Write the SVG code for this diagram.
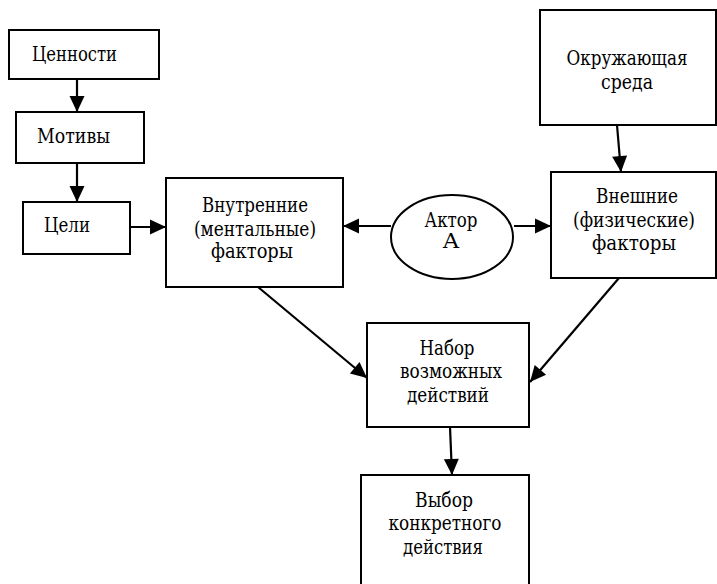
<svg xmlns="http://www.w3.org/2000/svg" width="717" height="584" viewBox="0 0 717 584" style="background:#fff">
<defs>
<marker id="ah" markerUnits="userSpaceOnUse" markerWidth="18" markerHeight="18" viewBox="0 0 18 18" refX="17" refY="9" orient="auto">
<path d="M1,1.5 L17,9 L1,16.5 Z" fill="#000"/>
</marker>
</defs>
<style>
.n { fill: #fff; stroke: #000; stroke-width: 2; }
text { font-family: 'DejaVu Serif', 'Liberation Serif', serif; font-size: 19.5px; fill: #000; }
.c { text-anchor: middle; }
#connectors line { stroke: #000; stroke-width: 2.2; marker-end: url(#ah); }
</style>
<g id="connectors">
<line x1="77" y1="79" x2="77" y2="112"/>
<line x1="77" y1="163" x2="77" y2="202"/>
<line x1="130" y1="227" x2="166" y2="227"/>
<line x1="391" y1="226" x2="343" y2="226"/>
<line x1="514" y1="226" x2="551" y2="226"/>
<line x1="617" y1="125" x2="621" y2="172"/>
<line x1="258" y1="287" x2="367" y2="378"/>
<line x1="619" y1="278" x2="530" y2="382"/>
<line x1="450" y1="427" x2="452" y2="475"/>
</g>
<g id="values">
<rect class="n" x="9" y="30" width="150" height="49"/>
<text x="32" y="61" textLength="85" lengthAdjust="spacingAndGlyphs">Ценности</text>
</g>
<g id="motives">
<rect class="n" x="16" y="112" width="128" height="51"/>
<text x="37" y="143" textLength="73" lengthAdjust="spacingAndGlyphs">Мотивы</text>
</g>
<g id="goals">
<rect class="n" x="23" y="202" width="107" height="52"/>
<text x="44" y="232" textLength="46" lengthAdjust="spacingAndGlyphs">Цели</text>
</g>
<g id="internal">
<rect class="n" x="166" y="178" width="177" height="109"/>
<text class="c" x="255" y="212" textLength="106" lengthAdjust="spacingAndGlyphs">Внутренние</text>
<text class="c" x="255" y="236" textLength="122" lengthAdjust="spacingAndGlyphs">(ментальные)</text>
<text class="c" x="252" y="258" textLength="82" lengthAdjust="spacingAndGlyphs">факторы</text>
</g>
<g id="actor">
<ellipse class="n" cx="452" cy="237" rx="61" ry="42"/>
<text class="c" x="451" y="227" textLength="53" lengthAdjust="spacingAndGlyphs">Актор</text>
<text class="c" x="451" y="248" textLength="17" lengthAdjust="spacingAndGlyphs">А</text>
</g>
<g id="environment">
<rect class="n" x="540" y="10" width="176" height="115"/>
<text class="c" x="627" y="65" textLength="121" lengthAdjust="spacingAndGlyphs">Окружающая</text>
<text class="c" x="627" y="89" textLength="52" lengthAdjust="spacingAndGlyphs">среда</text>
</g>
<g id="external">
<rect class="n" x="551" y="172" width="165" height="106"/>
<text class="c" x="637" y="203" textLength="82" lengthAdjust="spacingAndGlyphs">Внешние</text>
<text class="c" x="634" y="227" textLength="122" lengthAdjust="spacingAndGlyphs">(физические)</text>
<text class="c" x="634" y="250" textLength="84" lengthAdjust="spacingAndGlyphs">факторы</text>
</g>
<g id="actions">
<rect class="n" x="367" y="323" width="162" height="104"/>
<text class="c" x="447" y="355" textLength="55" lengthAdjust="spacingAndGlyphs">Набор</text>
<text class="c" x="451" y="378" textLength="102" lengthAdjust="spacingAndGlyphs">возможных</text>
<text class="c" x="448" y="402" textLength="82" lengthAdjust="spacingAndGlyphs">действий</text>
</g>
<g id="choice">
<rect class="n" x="361" y="475" width="168" height="120"/>
<text class="c" x="444" y="507" textLength="58" lengthAdjust="spacingAndGlyphs">Выбор</text>
<text class="c" x="445" y="530" textLength="113" lengthAdjust="spacingAndGlyphs">конкретного</text>
<text class="c" x="443" y="554" textLength="80" lengthAdjust="spacingAndGlyphs">действия</text>
</g>
</svg>
